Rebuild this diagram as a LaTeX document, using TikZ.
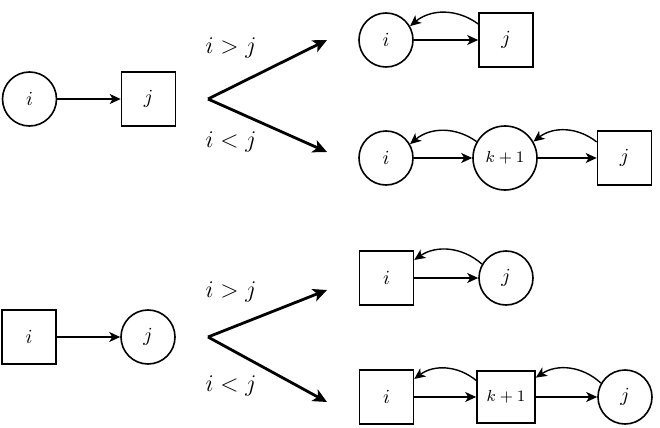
\documentclass[tikz,border=0pt]{standalone}
\usetikzlibrary{arrows.meta}
\begin{document}
\begin{tikzpicture}[x=0.5pt,y=-0.5pt,
  cnode/.style={circle,draw,line width=0.8pt,minimum size=27pt,inner sep=0pt},
  bignode/.style={circle,draw,line width=0.8pt,minimum size=32pt,inner sep=0pt,font=\footnotesize},
  snode/.style={rectangle,draw,line width=0.8pt,minimum size=27pt,inner sep=0pt},
  ksnode/.style={rectangle,draw,line width=0.8pt,minimum width=29pt,minimum height=26pt,inner sep=0pt,font=\footnotesize},
  edge/.style={-{Stealth[length=5.5pt,width=5pt,inset=1.5pt]},line width=0.7pt},
  back/.style={-{Stealth[length=5.5pt,width=5pt,inset=1.5pt]},line width=0.7pt,bend right=38},
  split/.style={-{Stealth[length=7pt,width=6.5pt,inset=1.8pt]},line width=1.4pt},
  lab/.style={font=\large}]
\useasboundingbox (0,0) rectangle (660,428);
% top-left
\node[cnode] (a1) at (29.5,99) {$i$};
\node[snode] (a2) at (148.5,99) {$j$};
\draw[edge] (a1) -- (a2);
\coordinate (v1) at (208,99);
\coordinate (u1) at (327,40);
\coordinate (d1) at (327,152);
\draw[split] (v1) -- (u1);
\draw[split] (v1) -- (d1);
\node[lab] (l1) at (231,48) {$i>j$};
\node[lab] (l2) at (231,142) {$i<j$};
% group 1
\node[cnode] (b1) at (386,40) {$i$};
\node[snode] (b2) at (506,40) {$j$};
\draw[edge] (b1) -- (b2);
\draw[back] (b2.150) to (b1.30);
% group 2
\node[cnode] (c1) at (386,158) {$i$};
\node[bignode] (c2) at (505,158) {$k+1$};
\node[snode] (c3) at (624.5,158) {$j$};
\draw[edge] (c1) -- (c2);
\draw[edge] (c2) -- (c3);
\draw[back] (c2.150) to (c1.30);
\draw[back] (c3.150) to (c2.30);
% bottom-left
\node[snode] (e1) at (29,337) {$i$};
\node[cnode] (e2) at (148,337) {$j$};
\draw[edge] (e1) -- (e2);
\coordinate (v2) at (208,337);
\coordinate (u2) at (327,290);
\coordinate (d2) at (327,402);
\draw[split] (v2) -- (u2);
\draw[split] (v2) -- (d2);
\node[lab] (l3) at (231,292) {$i>j$};
\node[lab] (l4) at (231,386) {$i<j$};
% group 3
\node[snode] (f1) at (386.5,278) {$i$};
\node[cnode] (f2) at (506,278) {$j$};
\draw[edge] (f1) -- (f2);
\draw[back] (f2.150) to (f1.33);
% group 4
\node[snode] (g1) at (386.5,397) {$i$};
\node[ksnode] (g2) at (506,397) {$k+1$};
\node[cnode] (g3) at (625,397) {$j$};
\draw[edge] (g1) -- (g2);
\draw[edge] (g2) -- (g3);
\draw[back] (g2.151) to (g1.33);
\draw[back] (g3.150) to (g2.33);
\end{tikzpicture}
\end{document}
